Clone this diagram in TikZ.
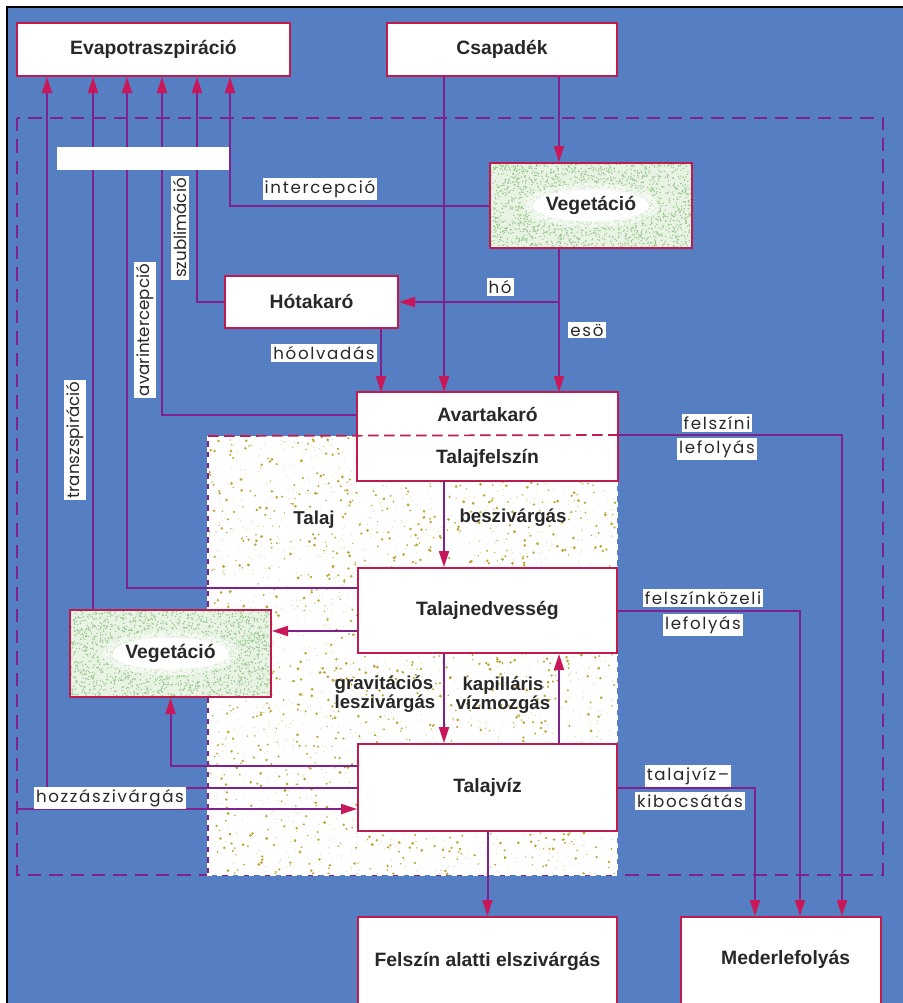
\documentclass[tikz,border=0pt]{standalone}
\usepackage{fontspec}
\setmainfont{Liberation Sans}
\newfontfamily\thinfont[LetterSpace=10]{Poppins}
\newfontfamily\thinplain{Poppins}
\usetikzlibrary{arrows.meta}

\newdimen\pxu \pxu=0.75pt

\definecolor{bgblue}{RGB}{86,126,194}
\definecolor{flowpurple}{RGB}{128,34,142}
\definecolor{boxred}{RGB}{190,28,78}
\definecolor{tipred}{RGB}{200,24,90}
\definecolor{vegbase}{RGB}{232,243,228}
\definecolor{veggreen}{RGB}{146,198,134}
\definecolor{soildot}{RGB}{190,164,50}
\definecolor{inkgray}{RGB}{40,40,40}

\tikzset{
  box/.style={draw=boxred, line width=1.5pt, fill=white, text=inkgray, inner sep=0pt,
    font=\fontsize{14.5}{16}\selectfont\bfseries},
  vegbox/.style={box, fill=none},
  flow/.style={draw=flowpurple, line width=1.5pt},
  arrowflow/.style={flow, -{Triangle[length=12pt,width=7.5pt,color=tipred]}},
  lbl/.style={fill=white, inner sep=1.5pt, text=inkgray, font=\thinfont\fontsize{12.5}{14}\selectfont},
  vlbl/.style={lbl, rotate=90, font=\thinplain\fontsize{12.5}{14}\selectfont},
  soiltext/.style={text=inkgray, inner sep=0pt, font=\fontsize{14}{12.5}\selectfont\bfseries},
}

\begin{document}
\begin{tikzpicture}[x=0.75pt,y=0.75pt,yscale=-1,xscale=1]
\useasboundingbox (0,0) rectangle (903,1003);
\clip (0,0) rectangle (903,1003);

%Background
\fill[white] (0,0) rectangle (903,1003);
\fill[bgblue] (7,7) rectangle (903,1003);
\draw[black, line width=0.8pt] (7,1003) -- (7,7) -- (903,7);
%Dashed frame
\draw[flowpurple, line width=1.3pt, dash pattern=on 10pt off 6pt] (17,118) rectangle (883,875);

%Soil
\fill[white] (208,436) rectangle (617,875);
\pgfmathsetseed{7}
\foreach \k in {1,...,1500} \fill[soildot!60] ({208+409*rnd},{436+439*rnd}) circle (0.5);
\foreach \k in {1,...,1300} \fill[soildot] ({208+409*rnd},{436+439*rnd}) circle ({0.6+1.0*rnd});
\draw[flowpurple, line width=1pt] (208,436) -- (208,875);
\draw[white, line width=1.2pt, dash pattern=on 4pt off 4pt] (208,436) -- (208,875) -- (617,875) -- (617,480);

%Vegetation textures
\begin{scope}
\clip (490,163) rectangle (692,248);
\fill[vegbase] (490,163) rectangle (692,248);
\foreach \k in {1,...,1900} \fill[veggreen] ({490+202*rnd},{163+85*rnd}) circle (0.75);
\fill[white, opacity=0.5] (591,205.5) ellipse (68 and 22);
\fill[white] (591,205.5) ellipse (58 and 16);
\end{scope}
\begin{scope}
\clip (70,610) rectangle (271,697);
\fill[vegbase] (70,610) rectangle (271,697);
\foreach \k in {1,...,1900} \fill[veggreen] ({70+201*rnd},{610+87*rnd}) circle (0.75);
\fill[white, opacity=0.5] (170.5,653.5) ellipse (68 and 22);
\fill[white] (170.5,653.5) ellipse (58 and 16);
\end{scope}

%Boxes
\node[box, minimum width=273\pxu, minimum height=53\pxu] (evap) at (153.5,49.5) {Evapotraszpiráció};
\node[box, minimum width=230\pxu, minimum height=53\pxu] (csap) at (502,49.5) {Csapadék};
\node[vegbox, minimum width=202\pxu, minimum height=85\pxu] (vegtop) at (591,205.5) {Vegetáció};
\node[box, minimum width=173\pxu, minimum height=52\pxu] (hotak) at (311.5,302) {Hótakaró};
\node[box, draw=none, minimum width=259\pxu, minimum height=43\pxu] (avar) at (487.5,414.5) {Avartakaró};
\node[box, draw=none, minimum width=259\pxu, minimum height=44\pxu] (felszin) at (487.5,458) {Talajfelszín};
\draw[boxred, line width=1.5pt] (avar.north west) rectangle (felszin.south east);
\draw[boxred, line width=1.3pt, dash pattern=on 8pt off 4pt] (208,436) -- (felszin.north east);
\node[box, minimum width=259\pxu, minimum height=85\pxu] (nedv) at (487.5,610.5) {Talajnedvesség};
\node[vegbox, minimum width=201\pxu, minimum height=87\pxu] (veglow) at (170.5,653.5) {Vegetáció};
\node[box, minimum width=259\pxu, minimum height=87\pxu] (viz) at (487.5,787.5) {Talajvíz};
\node[box, minimum width=259\pxu, minimum height=89\pxu] (alatti) at (487.5,961.5) {Felszín alatti elszivárgás};
\node[box, minimum width=200\pxu, minimum height=89\pxu, text depth=6pt] (meder) at (781,961.5) {\hspace*{7pt}Mederlefolyás};

%Soil texts
\node[soiltext] (talaj) at (314,520) {Talaj};
\node[soiltext] (besz) at (513,518) {beszivárgás};
\node[soiltext, align=left] (grav) at (385,694) {gravitációs\\leszivárgás};
\node[soiltext, align=center] (kap) at (503,695) {kapilláris\\vízmozgás};

%Lanes
\coordinate (xA) at (47,0);
\coordinate (xB) at (93,0);
\coordinate (xC) at (127,0);
\coordinate (xD) at (162,0);
\coordinate (xE) at (197,0);
\coordinate (xF) at (230,0);
\coordinate (xG) at (381,0);
\coordinate (xH) at (444,0);
\coordinate (xI) at (559,0);
\coordinate (xJ) at (755,0);
\coordinate (xK) at (800,0);
\coordinate (xL) at (842,0);
\coordinate (yA) at (0,588);
\coordinate (yB) at (0,631);
\coordinate (yC) at (0,766);
\coordinate (inflow) at (17,809);

%Connectors
\draw[arrowflow] (csap.south -| xI) -- (vegtop.north -| xI);
\draw[arrowflow] (csap.south -| xH) -- (avar.north -| xH);
\draw[arrowflow] (vegtop.west) -| (evap.south -| xF);
\draw[arrowflow] (vegtop.south -| xI) -- (avar.north -| xI);
\draw[arrowflow] (hotak.east -| xI) -- (hotak.east);
\draw[arrowflow] (hotak.west) -| (evap.south -| xE);
\draw[arrowflow] (hotak.south -| xG) -- (avar.north -| xG);
\draw[arrowflow] (avar.west) -| (evap.south -| xD);
\draw[arrowflow] (felszin.south -| xH) -- (nedv.north -| xH);
\draw[arrowflow] (nedv.west |- yA) -| (evap.south -| xC);
\draw[arrowflow] (nedv.west |- yB) -- (veglow.east |- yB);
\draw[arrowflow] (veglow.north -| xB) -- (evap.south -| xB);
\draw[arrowflow] (nedv.south -| xH) -- (viz.north -| xH);
\draw[arrowflow] (viz.north -| xI) -- (nedv.south -| xI);
\draw[arrowflow] (viz.west |- yC) -| (veglow.south);
\draw[arrowflow] (viz.west) -| (evap.south -| xA);
\draw[arrowflow] (inflow) -- (viz.west |- inflow);
\draw[arrowflow] (felszin.north east) -| (meder.north -| xL);
\draw[arrowflow] (nedv.east) -| (meder.north -| xK);
\draw[arrowflow] (viz.east) -| (meder.north -| xJ);
\draw[arrowflow] (viz.south) -- (alatti.north);

%Labels
\node[lbl] (lint) at (320,189) {intercepció};
\node[vlbl] (lszub) at (180,228) {szublimáció};
\node[vlbl] (lavar) at (145,330) {avarintercepció};
\node[vlbl] (ltransz) at (75,440) {transzspiráció};
\node[lbl] (lho) at (500,287) {hó};
\node[lbl] (leso) at (587,330) {esö};
\node[lbl] (lolv) at (324,353) {hóolvadás};
\node[lbl] (lfel) at (717,423) {felszíni};
\node[lbl] (lfel2) at (717,449) {lefolyás};
\node[lbl] (lkoz) at (703,598) {felszínközeli};
\node[lbl] (lkoz2) at (703,625) {lefolyás};
\node[lbl] (lviz) at (688,776) {talajvíz–};
\node[lbl] (lviz2) at (690,801) {kibocsátás};
\node[lbl] (lhoz) at (110,798) {hozzászivárgás};

%Blank bar
\node[fill=white, minimum width=172\pxu, minimum height=23\pxu, inner sep=0pt] (blank) at (143,158.5) {};

\end{tikzpicture}
\end{document}
